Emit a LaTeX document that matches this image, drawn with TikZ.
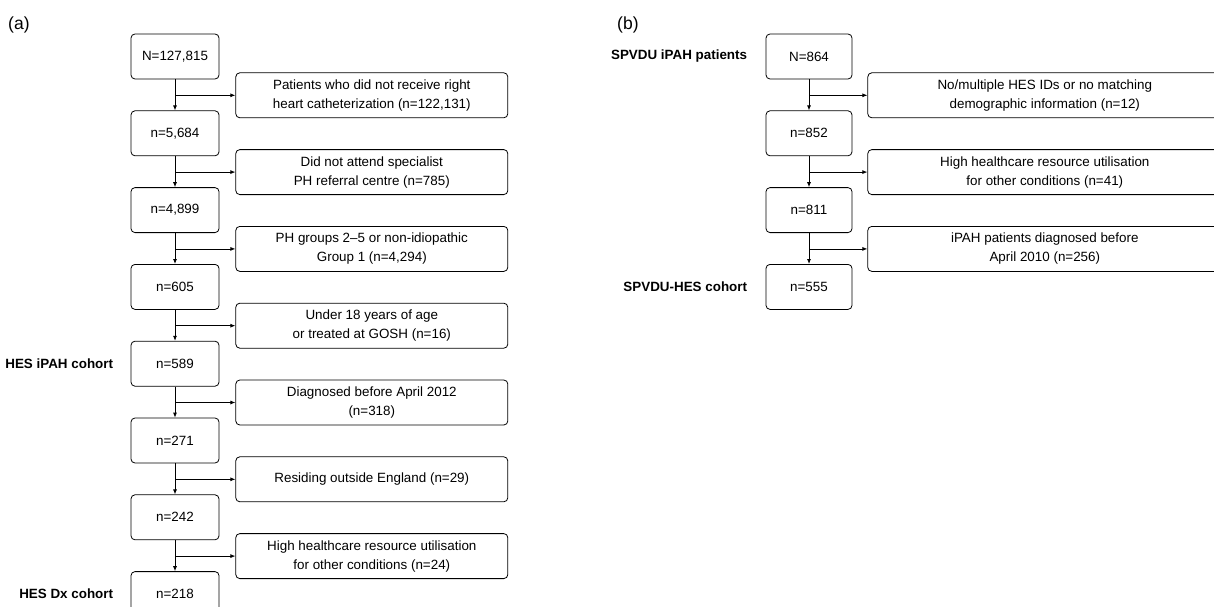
\documentclass[tikz,border=0pt]{standalone}
\usepackage{fontspec}
\setmainfont{Liberation Sans}
\usetikzlibrary{arrows.meta,positioning}

\begin{document}
\begin{tikzpicture}[node distance=31pt,>={Latex[length=5pt,width=4pt]},font=\fontsize{13.4}{19}\selectfont]
    \tikzstyle{count}=[draw,rounded corners=4pt,minimum width=88pt,minimum height=45pt,inner sep=0pt,line width=0.8pt]
    \tikzstyle{excl}=[draw,rounded corners=4pt,minimum width=272pt,minimum height=45pt,inner sep=0pt,align=center,line width=0.8pt]
    \tikzstyle{cohort}=[font=\fontsize{13.4}{19}\selectfont\bfseries]
    \tikzstyle{panel}=[font=\fontsize{17.5}{20}\selectfont,anchor=west,inner sep=0pt]

    \useasboundingbox (0,0) rectangle (1214pt,-607pt);

    \node[panel] (pa) at (8pt,-25pt) {(a)};
    \node[count] (a0) at (175pt,-56.5pt) {N=127,815};
    \node[count] (a1) [below=of a0] {n=5,684};
    \node[count] (a2) [below=of a1] {n=4,899};
    \node[count] (a3) [below=of a2] {n=605};
    \node[count] (a4) [below=of a3] {n=589};
    \node[count] (a5) [below=of a4] {n=271};
    \node[count] (a6) [below=of a5] {n=242};
    \node[count] (a7) [below=of a6] {n=218};

    \node[excl] (xa1) [below right=-7pt and 16pt of a0] {Patients who did not receive right\\heart catheterization (n=122,131)};
    \node[excl] (xa2) [below right=-7pt and 16pt of a1] {Did not attend specialist\\PH referral centre (n=785)};
    \node[excl] (xa3) [below right=-7pt and 16pt of a2] {PH groups 2--5 or non-idiopathic\\Group 1 (n=4,294)};
    \node[excl] (xa4) [below right=-7pt and 16pt of a3] {Under 18 years of age\\or treated at GOSH (n=16)};
    \node[excl] (xa5) [below right=-7pt and 16pt of a4] {Diagnosed before April 2012\\(n=318)};
    \node[excl] (xa6) [below right=-7pt and 16pt of a5] {Residing outside England (n=29)};
    \node[excl] (xa7) [below right=-7pt and 16pt of a6] {High healthcare resource utilisation\\for other conditions (n=24)};

    \node[cohort] (ca4) [left=14pt of a4] {HES iPAH cohort};
    \node[cohort] (ca7) [left=14pt of a7] {HES Dx cohort};

    \node[panel] (pb) at (617pt,-25pt) {(b)};
    \node[count,minimum width=86pt] (b0) at (809pt,-56.5pt) {N=864};
    \node[count,minimum width=86pt] (b1) [below=of b0] {n=852};
    \node[count,minimum width=86pt] (b2) [below=of b1] {n=811};
    \node[count,minimum width=86pt] (b3) [below=of b2] {n=555};

    \node[excl,minimum width=354pt] (xb1) [below right=-7pt and 15pt of b0] {No/multiple HES IDs or no matching\\demographic information (n=12)};
    \node[excl,minimum width=354pt] (xb2) [below right=-7pt and 15pt of b1] {High healthcare resource utilisation\\for other conditions (n=41)};
    \node[excl,minimum width=354pt] (xb3) [below right=-7pt and 15pt of b2] {iPAH patients diagnosed before\\April 2010 (n=256)};

    \node[cohort] (cb0) [left=15pt of b0] {SPVDU iPAH patients};
    \node[cohort] (cb3) [left=15pt of b3] {SPVDU-HES cohort};

    \path[->,line width=0.8pt]
    (a0) edge (a1)
    (a1) edge (a2)
    (a2) edge (a3)
    (a3) edge (a4)
    (a4) edge (a5)
    (a5) edge (a6)
    (a6) edge (a7)
    (a0.south |- xa1) edge (xa1)
    (a1.south |- xa2) edge (xa2)
    (a2.south |- xa3) edge (xa3)
    (a3.south |- xa4) edge (xa4)
    (a4.south |- xa5) edge (xa5)
    (a5.south |- xa6) edge (xa6)
    (a6.south |- xa7) edge (xa7)
    (b0) edge (b1)
    (b1) edge (b2)
    (b2) edge (b3)
    (b0.south |- xb1) edge (xb1)
    (b1.south |- xb2) edge (xb2)
    (b2.south |- xb3) edge (xb3);
\end{tikzpicture}
\end{document}
